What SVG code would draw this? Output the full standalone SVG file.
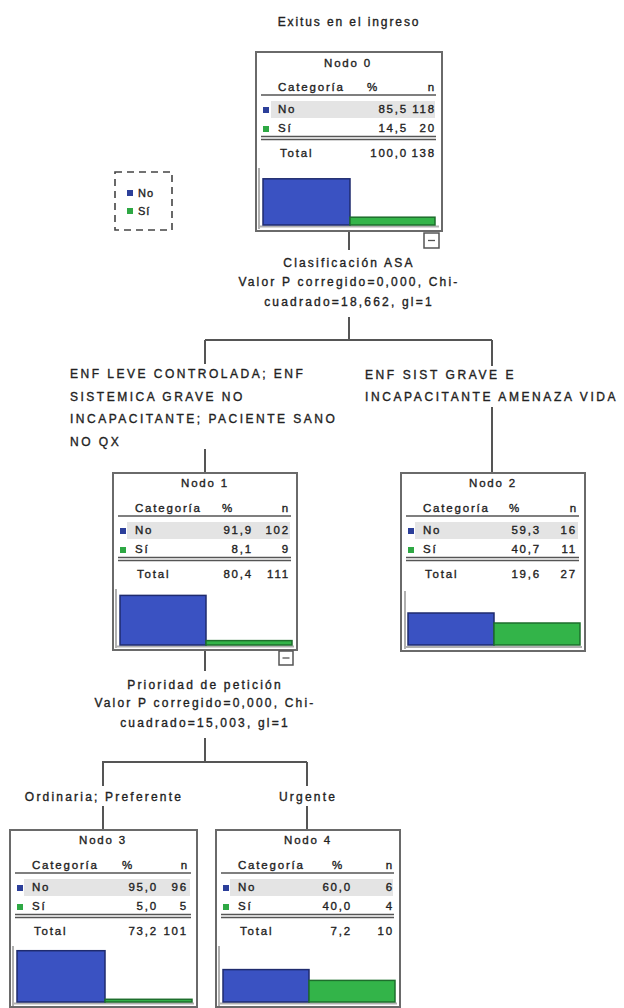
<svg xmlns="http://www.w3.org/2000/svg" width="624" height="1008" viewBox="0 0 624 1008">
<style>
text{font-family:"Liberation Sans",Arial,sans-serif;font-size:12px;fill:#222;stroke:#222;stroke-width:0.35px;letter-spacing:2.2px}
.tb text{font-size:11.5px;letter-spacing:1.8px}
.e{text-anchor:end}
.m{text-anchor:middle}
.box{fill:#fff;stroke:#6a6a6a;stroke-width:2}
.rule{stroke:#555;stroke-width:1.3}
.shade{fill:#e4e4e4}
.sqb{fill:#2c3f9a}
.sqg{fill:#2ea844}
.barb{fill:#3a52c2;stroke:#1f2b6e;stroke-width:1.5}
.barg{fill:#33b449;stroke:#1e6e2c;stroke-width:1.5}
.axis{stroke:#b0b0b0;stroke-width:2}
.con{stroke:#555;stroke-width:2;fill:none}
.tog{fill:#fff;stroke:#555;stroke-width:1.5}
</style>
<rect width="624" height="1008" fill="#fff"/>

<text id="title" class="m" x="349" y="26" style="letter-spacing:1.9px">Exitus en el ingreso</text>

<g id="legend">
<rect x="115" y="172" width="57" height="58" fill="none" stroke="#444" stroke-width="1.6" stroke-dasharray="7,5"/>
<rect class="sqb" x="127" y="190" width="6" height="6"/>
<text x="138" y="197" style="font-size:11px;letter-spacing:1px">No</text>
<rect class="sqg" x="127" y="208" width="6" height="6"/>
<text x="138" y="215" style="font-size:11px;letter-spacing:1px">Sí</text>
</g>

<g id="connectors">
<path class="con" d="M349,231 V250"/>
<path class="con" d="M349,317 V340"/>
<path class="con" d="M205,340 H492"/>
<path class="con" d="M205,340 V364"/>
<path class="con" d="M205,449 V473"/>
<path class="con" d="M492,340 V366"/>
<path class="con" d="M492,407 V473"/>
<path class="con" d="M205,650 V671"/>
<path class="con" d="M205,738 V762"/>
<path class="con" d="M102,762 H307"/>
<path class="con" d="M103,762 V786"/>
<path class="con" d="M307,762 V786"/>
<path class="con" d="M103,806 V830"/>
<path class="con" d="M307,806 V830"/>
</g>

<g id="split1">
<text class="m" x="349" y="267">Clasificación ASA</text>
<text class="m" x="349" y="286">Valor P corregido=0,000, Chi-</text>
<text class="m" x="349" y="306">cuadrado=18,662, gl=1</text>
</g>
<g id="label-left1" style="letter-spacing:2.5px">
<text x="70" y="378" style="letter-spacing:2.5px">ENF LEVE CONTROLADA; ENF</text>
<text x="70" y="400.5" style="letter-spacing:2.5px">SISTEMICA GRAVE NO</text>
<text x="70" y="423" style="letter-spacing:2.5px">INCAPACITANTE; PACIENTE SANO</text>
<text x="70" y="445.5" style="letter-spacing:2.5px">NO QX</text>
</g>
<g id="label-right1">
<text x="365" y="379" style="letter-spacing:2.6px">ENF SIST GRAVE E</text>
<text x="365" y="401" style="letter-spacing:2.6px">INCAPACITANTE AMENAZA VIDA</text>
</g>
<g id="split2">
<text class="m" x="205" y="689">Prioridad de petición</text>
<text class="m" x="205" y="707">Valor P corregido=0,000, Chi-</text>
<text class="m" x="205" y="727">cuadrado=15,003, gl=1</text>
</g>
<g id="label-left2"><text class="m" x="104" y="801">Ordinaria; Preferente</text></g>
<g id="label-right2"><text class="m" x="308" y="801">Urgente</text></g>

<g id="node0" class="tb" transform="translate(256,52)">
<rect class="box" width="186" height="179"/>
<text class="m" x="92" y="15">Nodo 0</text>
<text x="22" y="39">Categoría</text>
<text class="m" x="117" y="39">%</text>
<text class="e" x="180" y="39">n</text>
<line class="rule" x1="5" y1="43" x2="180" y2="43"/>
<rect class="shade" x="15" y="49" width="164" height="17"/>
<rect class="sqb" x="7" y="55" width="6" height="6"/>
<text x="22" y="61">No</text>
<text class="e" x="152" y="61">85,5</text>
<text class="e" x="180" y="61">118</text>
<rect class="sqg" x="7" y="74" width="6" height="6"/>
<text x="22" y="80">Sí</text>
<text class="e" x="152" y="80">14,5</text>
<text class="e" x="180" y="80">20</text>
<line class="rule" x1="5" y1="84.5" x2="180" y2="84.5"/>
<line class="rule" x1="5" y1="87.5" x2="180" y2="87.5"/>
<text x="24" y="105">Total</text>
<text class="e" x="152" y="105">100,0</text>
<text class="e" x="180" y="105">138</text>
<line class="axis" x1="3" y1="116" x2="3" y2="177"/>
<line class="axis" x1="3" y1="174.5" x2="183" y2="174.5"/>
<rect class="barb" x="7" y="126.8" width="87" height="46.2"/>
<rect class="barg" x="94" y="165.2" width="85" height="7.8"/>
</g>
<g id="toggle0"><rect class="tog" x="424" y="233" width="15" height="15"/><line class="rule" x1="428" y1="240.5" x2="435" y2="240.5"/></g>

<g id="node1" class="tb" transform="translate(113,473)">
<rect class="box" width="184" height="177"/>
<text class="m" x="92" y="14">Nodo 1</text>
<text x="22" y="39">Categoría</text>
<text class="m" x="115" y="39">%</text>
<text class="e" x="177" y="39">n</text>
<line class="rule" x1="5" y1="43" x2="178" y2="43"/>
<rect class="shade" x="14" y="49" width="163" height="17"/>
<rect class="sqb" x="7" y="55" width="6" height="6"/>
<text x="22" y="61">No</text>
<text class="e" x="140" y="61">91,9</text>
<text class="e" x="177" y="61">102</text>
<rect class="sqg" x="7" y="74" width="6" height="6"/>
<text x="22" y="80">Sí</text>
<text class="e" x="140" y="80">8,1</text>
<text class="e" x="177" y="80">9</text>
<line class="rule" x1="5" y1="84.5" x2="178" y2="84.5"/>
<line class="rule" x1="5" y1="87.5" x2="178" y2="87.5"/>
<text x="24" y="105">Total</text>
<text class="e" x="140" y="105">80,4</text>
<text class="e" x="177" y="105">111</text>
<line class="axis" x1="3" y1="116" x2="3" y2="175"/>
<line class="axis" x1="3" y1="173.5" x2="181" y2="173.5"/>
<rect class="barb" x="7" y="122.4" width="86" height="49.6"/>
<rect class="barg" x="93" y="167.6" width="86" height="4.4"/>
</g>
<g id="toggle1"><rect class="tog" x="279" y="651" width="14" height="14"/><line class="rule" x1="282.5" y1="658" x2="289.5" y2="658"/></g>

<g id="node2" class="tb" transform="translate(401,473)">
<rect class="box" width="184" height="178"/>
<text class="m" x="92" y="14">Nodo 2</text>
<text x="22" y="39">Categoría</text>
<text class="m" x="114" y="39">%</text>
<text class="e" x="177" y="39">n</text>
<line class="rule" x1="5" y1="43" x2="178" y2="43"/>
<rect class="shade" x="14" y="49" width="163" height="17"/>
<rect class="sqb" x="7" y="55" width="6" height="6"/>
<text x="22" y="61">No</text>
<text class="e" x="140" y="61">59,3</text>
<text class="e" x="176" y="61">16</text>
<rect class="sqg" x="7" y="74" width="6" height="6"/>
<text x="22" y="80">Sí</text>
<text class="e" x="140" y="80">40,7</text>
<text class="e" x="176" y="80">11</text>
<line class="rule" x1="5" y1="84.5" x2="178" y2="84.5"/>
<line class="rule" x1="5" y1="87.5" x2="178" y2="87.5"/>
<text x="24" y="105">Total</text>
<text class="e" x="140" y="105">19,6</text>
<text class="e" x="176" y="105">27</text>
<line class="axis" x1="4" y1="118" x2="4" y2="176"/>
<line class="axis" x1="4" y1="174" x2="181" y2="174"/>
<rect class="barb" x="7" y="140" width="86" height="32"/>
<rect class="barg" x="93" y="150" width="86" height="22"/>
</g>

<g id="node3" class="tb" transform="translate(10,830)">
<rect class="box" width="187" height="177"/>
<text class="m" x="93" y="14">Nodo 3</text>
<text x="22" y="39">Categoría</text>
<text class="m" x="118" y="39">%</text>
<text class="e" x="179" y="39">n</text>
<line class="rule" x1="5" y1="43" x2="181" y2="43"/>
<rect class="shade" x="14" y="49" width="166" height="17"/>
<rect class="sqb" x="7" y="55" width="6" height="6"/>
<text x="22" y="61">No</text>
<text class="e" x="148" y="61">95,0</text>
<text class="e" x="178" y="61">96</text>
<rect class="sqg" x="7" y="74" width="6" height="6"/>
<text x="22" y="80">Sí</text>
<text class="e" x="148" y="80">5,0</text>
<text class="e" x="178" y="80">5</text>
<line class="rule" x1="5" y1="84.5" x2="181" y2="84.5"/>
<line class="rule" x1="5" y1="87.5" x2="181" y2="87.5"/>
<text x="24" y="105">Total</text>
<text class="e" x="148" y="105">73,2</text>
<text class="e" x="178" y="105">101</text>
<line class="axis" x1="3" y1="116" x2="3" y2="176"/>
<line class="axis" x1="3" y1="173.5" x2="184" y2="173.5"/>
<rect class="barb" x="7" y="120.7" width="88" height="51.3"/>
<rect class="barg" x="95" y="169.3" width="87" height="2.7"/>
</g>

<g id="node4" class="tb" transform="translate(216,830)">
<rect class="box" width="184" height="177"/>
<text class="m" x="92" y="14">Nodo 4</text>
<text x="22" y="39">Categoría</text>
<text class="m" x="122" y="39">%</text>
<text class="e" x="178" y="39">n</text>
<line class="rule" x1="5" y1="43" x2="178" y2="43"/>
<rect class="shade" x="14" y="49" width="163" height="17"/>
<rect class="sqb" x="7" y="55" width="6" height="6"/>
<text x="22" y="61">No</text>
<text class="e" x="136" y="61">60,0</text>
<text class="e" x="178" y="61">6</text>
<rect class="sqg" x="7" y="74" width="6" height="6"/>
<text x="22" y="80">Sí</text>
<text class="e" x="136" y="80">40,0</text>
<text class="e" x="178" y="80">4</text>
<line class="rule" x1="5" y1="84.5" x2="178" y2="84.5"/>
<line class="rule" x1="5" y1="87.5" x2="178" y2="87.5"/>
<text x="24" y="105">Total</text>
<text class="e" x="136" y="105">7,2</text>
<text class="e" x="178" y="105">10</text>
<line class="axis" x1="3" y1="116" x2="3" y2="176"/>
<line class="axis" x1="3" y1="173.5" x2="181" y2="173.5"/>
<rect class="barb" x="7" y="139.6" width="86" height="32.4"/>
<rect class="barg" x="93" y="150.4" width="86" height="21.6"/>
</g>
</svg>
